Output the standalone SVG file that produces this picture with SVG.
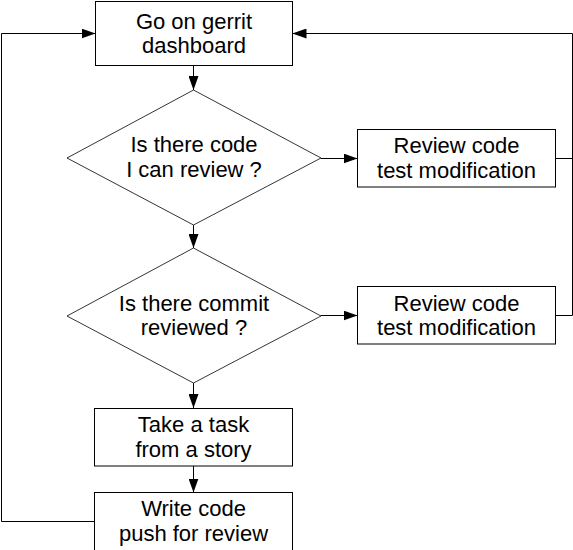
<svg xmlns="http://www.w3.org/2000/svg" width="573" height="550" viewBox="0 0 573 550">
<style>
.box{fill:#fff;stroke:#000;stroke-width:1}
.dia{fill:#fff;stroke:#000;stroke-width:0.8}
.lbl{font-family:"Liberation Sans",Arial,sans-serif;font-size:22px;fill:#000;text-anchor:middle}
.con{fill:none;stroke:#000;stroke-width:1}
</style>
<defs>
<marker id="ah" viewBox="0 0 14 10" refX="14" refY="5" markerWidth="14" markerHeight="10" markerUnits="userSpaceOnUse" orient="auto">
<path d="M0,0 L14,5 L0,10 z" fill="#000"/>
</marker>
</defs>
<rect width="573" height="550" fill="#fff"/>
<g id="connectors">
<path class="con" d="M193.5,65.5 V90" marker-end="url(#ah)"/>
<path class="con" d="M193.5,225 V248" marker-end="url(#ah)"/>
<path class="con" d="M193.5,383 V408" marker-end="url(#ah)"/>
<path class="con" d="M193.5,466 V492.5" marker-end="url(#ah)"/>
<path class="con" d="M321,158.5 H357.5" marker-end="url(#ah)"/>
<path class="con" d="M321,315.5 H357.5" marker-end="url(#ah)"/>
<path class="con" d="M555.5,158.5 H572.5"/>
<path class="con" d="M555.5,315.5 H572.5 V33.5 H292.5" marker-end="url(#ah)"/>
<path class="con" d="M95.5,521.5 H1.5 V33.5 H95.5" marker-end="url(#ah)"/>
</g>
<g id="gerrit">
<rect class="box" x="95.5" y="1.5" width="197" height="64"/>
<text class="lbl" x="194" y="28.5">Go on gerrit</text>
<text class="lbl" x="194" y="53">dashboard</text>
</g>
<g id="q1">
<polygon class="dia" points="193.5,90 321,158 193.5,225 67,158"/>
<text class="lbl" x="194" y="152">Is there code</text>
<text class="lbl" x="194" y="177">I can review ?</text>
</g>
<g id="review1">
<rect class="box" x="357.5" y="129.5" width="198" height="57.5"/>
<text class="lbl" x="456.5" y="153">Review code</text>
<text class="lbl" x="456.5" y="177.5">test modification</text>
</g>
<g id="q2">
<polygon class="dia" points="193.5,248 321,316 193.5,383 67,316"/>
<text class="lbl" x="194" y="310.5">Is there commit</text>
<text class="lbl" x="194" y="335">reviewed ?</text>
</g>
<g id="review2">
<rect class="box" x="357.5" y="286.5" width="198" height="57.5"/>
<text class="lbl" x="456.5" y="310.5">Review code</text>
<text class="lbl" x="456.5" y="335">test modification</text>
</g>
<g id="task">
<rect class="box" x="94.5" y="408.5" width="198" height="57.5"/>
<text class="lbl" x="193.5" y="432">Take a task</text>
<text class="lbl" x="193.5" y="456.5">from a story</text>
</g>
<g id="write">
<rect class="box" x="94.5" y="492.5" width="198" height="70"/>
<text class="lbl" x="193.5" y="516">Write code</text>
<text class="lbl" x="193.5" y="541">push for review</text>
</g>
</svg>
